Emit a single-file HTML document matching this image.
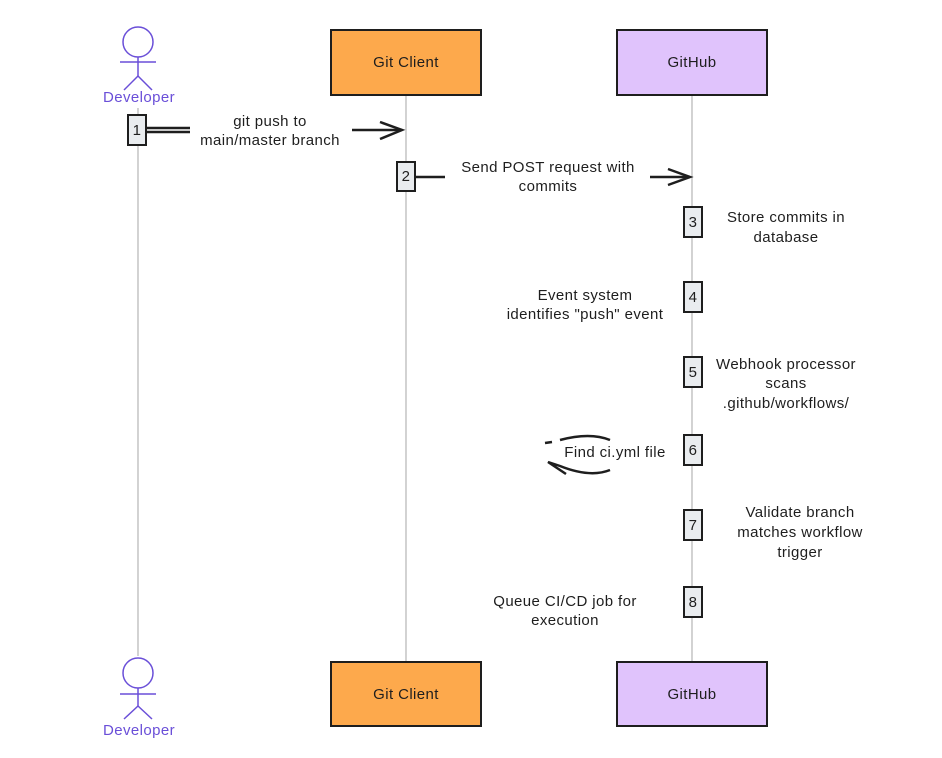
<!DOCTYPE html>
<html><head><meta charset="utf-8"><style>
body{margin:0;background:#fff}
svg text{font-family:"Comic Sans MS","Liberation Sans",sans-serif;font-size:15px;letter-spacing:0.4px;fill:#1e1e1e;text-anchor:middle}
</style></head><body>
<svg width="942" height="753" xmlns="http://www.w3.org/2000/svg">
<g stroke="#bbb" stroke-width="1.3">
<line x1="138" y1="108" x2="138" y2="656"/>
<line x1="406" y1="95" x2="406" y2="662"/>
<line x1="692" y1="95" x2="692" y2="662"/>
</g>
<g stroke="#6a4fd8" stroke-width="1.5" fill="none">
<circle cx="138" cy="42" r="15"/><line x1="138" y1="57" x2="138" y2="76"/><line x1="120" y1="62" x2="156" y2="62"/><line x1="138" y1="76" x2="124" y2="90"/><line x1="138" y1="76" x2="152" y2="90"/>
<circle cx="138" cy="673" r="15"/><line x1="138" y1="688" x2="138" y2="706"/><line x1="120" y1="694" x2="156" y2="694"/><line x1="138" y1="706" x2="124" y2="719"/><line x1="138" y1="706" x2="152" y2="719"/>
</g>
<text x="139" y="102" style="fill:#6a4fd8">Developer</text>
<text x="139" y="735" style="fill:#6a4fd8">Developer</text>
<g stroke="#1e1e1e" stroke-width="2">
<rect x="331" y="30" width="150" height="65" fill="#fda94c"/>
<rect x="617" y="30" width="150" height="65" fill="#e0c3fc"/>
<rect x="331" y="662" width="150" height="64" fill="#fda94c"/>
<rect x="617" y="662" width="150" height="64" fill="#e0c3fc"/>
</g>
<text x="406" y="67">Git Client</text><text x="692" y="67">GitHub</text>
<text x="406" y="699">Git Client</text><text x="692" y="699">GitHub</text>
<g stroke="#1e1e1e" stroke-width="2.5" fill="none">
<line x1="146" y1="128" x2="190" y2="128"/><line x1="146" y1="132" x2="190" y2="132"/><line x1="352" y1="130" x2="402" y2="130"/><polyline points="380,122 402,130 380,139"/>
<line x1="415" y1="177" x2="445" y2="177"/><line x1="650" y1="177" x2="690" y2="177"/><polyline points="668,169 690,177 668,185"/>
<path d="M610 440 Q590 432 560 440 M545 443 L552 442 M610 470 Q590 478 560 466 L548 462 L566 474"/>
</g>
<g stroke="#1e1e1e" stroke-width="2" fill="#e9ecef">
<rect x="128" y="115" width="18" height="30"/>
<rect x="397" y="162" width="18" height="29"/>
<rect x="684" y="207" width="18" height="30"/>
<rect x="684" y="282" width="18" height="30"/>
<rect x="684" y="357" width="18" height="30"/>
<rect x="684" y="435" width="18" height="30"/>
<rect x="684" y="510" width="18" height="30"/>
<rect x="684" y="587" width="18" height="30"/>
</g>
<g style="font-size:13px">
<text x="137" y="135">1</text><text x="406" y="181">2</text><text x="693" y="227">3</text><text x="693" y="302">4</text><text x="693" y="377">5</text><text x="693" y="455">6</text><text x="693" y="530">7</text><text x="693" y="607">8</text>
</g>
<text x="270" y="126">git push to</text><text x="270" y="145">main/master branch</text>
<text x="548" y="172">Send POST request with</text><text x="548" y="191">commits</text>
<text x="786" y="222">Store commits in</text><text x="786" y="242">database</text>
<text x="585" y="300">Event system</text><text x="585" y="319">identifies "push" event</text>
<text x="786" y="369">Webhook processor</text><text x="786" y="388">scans</text><text x="786" y="408">.github/workflows/</text>
<text x="615" y="457">Find ci.yml file</text>
<text x="800" y="517">Validate branch</text><text x="800" y="537">matches workflow</text><text x="800" y="557">trigger</text>
<text x="565" y="606">Queue CI/CD job for</text><text x="565" y="625">execution</text>
</svg>
</body></html>
